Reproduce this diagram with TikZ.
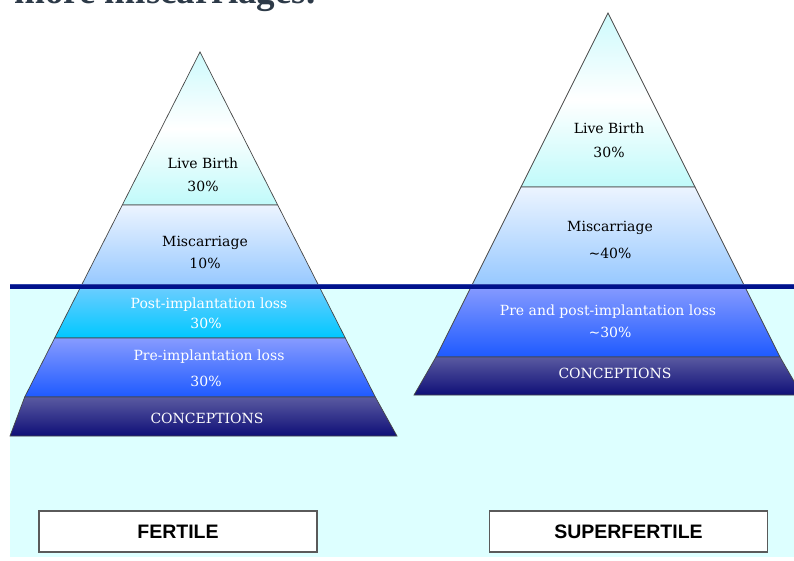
\documentclass[tikz,border=0pt]{standalone}
\usepackage{fontspec}
\setmainfont{DejaVu Serif}
\newfontfamily\boxfont{Liberation Sans}
\newfontfamily\titlefont{Liberation Serif}
\definecolor{bgcyan}{RGB}{221,255,255}
\definecolor{lbtop}{RGB}{205,250,252}
\definecolor{lbbot}{RGB}{192,250,250}
\definecolor{mctop}{RGB}{236,244,255}
\definecolor{mcbot}{RGB}{150,200,255}
\definecolor{potop}{RGB}{110,205,255}
\definecolor{pobot}{RGB}{0,200,255}
\definecolor{prtop}{RGB}{135,155,255}
\definecolor{prbot}{RGB}{30,90,255}
\definecolor{cotop}{RGB}{90,90,160}
\definecolor{cobot}{RGB}{15,15,120}
\definecolor{navy}{RGB}{0,18,140}
\definecolor{navylight}{RGB}{50,70,170}
\definecolor{edgecol}{RGB}{70,70,70}
\definecolor{boxedge}{RGB}{90,90,90}
\definecolor{titlecol}{RGB}{45,58,72}
\begin{document}
\begin{tikzpicture}[x=1pt,y=-1pt,
  band/.style={draw=edgecol, line width=0.7pt},
  livefill/.style={top color=lbtop, bottom color=lbbot, middle color=white},
  miscfill/.style={top color=mctop, bottom color=mcbot},
  postfill/.style={top color=potop, bottom color=pobot},
  prefill/.style={top color=prtop, bottom color=prbot},
  concfill/.style={top color=cotop, bottom color=cobot},
  dlbl/.style={font=\fontsize{14}{16}\selectfont, text=black, inner sep=0pt},
  wlbl/.style={font=\fontsize{14}{16}\selectfont, text=white, inner sep=0pt},
  labelbox/.style={draw=boxedge, line width=1.2pt, fill=white, minimum width=278pt, minimum height=41pt, inner sep=0pt, font=\boxfont\bfseries\fontsize{19.5}{22}\selectfont},
  titlestyle/.style={font=\titlefont\bfseries\fontsize{37}{40}\selectfont, text=titlecol, inner sep=0pt}
]
\useasboundingbox (0,0) rectangle (794,561);
\clip (0,0) rectangle (794,561);
% background water
\fill[bgcyan] (10,287) rectangle (794,557);
% cut-off title
\node[titlestyle, anchor=base west] (title) at (14,3.5) {more miscarriages.};
% ---- left pyramid (fertile)
\path[band, livefill] (200,52) -- (277.7,205) -- (122.3,205) -- cycle;
\path[band, miscfill] (122.3,205) -- (277.7,205) -- (318.9,286) -- (81.1,286) -- cycle;
\path[band, postfill] (81.1,286) -- (318.9,286) -- (345.3,338) -- (54.7,338) -- cycle;
\path[band, prefill] (54.7,338) -- (345.3,338) -- (375.3,397) -- (24.7,397) -- cycle;
\path[band, concfill] (24.7,397) -- (375.3,397) -- (397,436) -- (10,436) -- cycle;
% ---- right pyramid (superfertile)
\path[band, livefill] (608,13) -- (695,187) -- (521,187) -- cycle;
\path[band, miscfill] (521,187) -- (695,187) -- (744.5,286) -- (471.5,286) -- cycle;
\path[band, prefill] (471.5,286) -- (744.5,286) -- (780,357) -- (436,357) -- cycle;
\path[band, concfill] (436,357) -- (780,357) -- (802,395) -- (414,395) -- cycle;
% ---- water line
\draw[navy, line width=5pt] (10,286) -- (794,286);
\draw[navylight, line width=1pt] (10,284) -- (794,284);
% ---- left labels
\node[dlbl] (lLive) at (203,163) {Live Birth};
\node[dlbl] (lLiveP) at (203,186) {30\%};
\node[dlbl] (lMisc) at (205,243) {Miscarriage};
\node[dlbl] (lMiscP) at (205,263) {10\%};
\node[wlbl] (lPost) at (209,305) {Post-implantation loss};
\node[wlbl] (lPostP) at (206,323) {30\%};
\node[wlbl] (lPre) at (209,357) {Pre-implantation loss};
\node[wlbl] (lPreP) at (206,381) {30\%};
\node[wlbl] (lConc) at (207,418) {CONCEPTIONS};
% ---- right labels
\node[dlbl] (rLive) at (609,128) {Live Birth};
\node[dlbl] (rLiveP) at (609,152) {30\%};
\node[dlbl] (rMisc) at (610,228) {Miscarriage};
\node[dlbl] (rMiscP) at (610,253) {\textasciitilde 40\%};
\node[wlbl] (rPre) at (608,312) {Pre and post-implantation loss};
\node[wlbl] (rPreP) at (610,332) {\textasciitilde 30\%};
\node[wlbl] (rConc) at (615,373) {CONCEPTIONS};
% ---- bottom boxes
\node[labelbox] (fertile) at (178,531.5) {FERTILE};
\node[labelbox] (superfertile) at (628.5,531.5) {SUPERFERTILE};
\end{tikzpicture}
\end{document}
